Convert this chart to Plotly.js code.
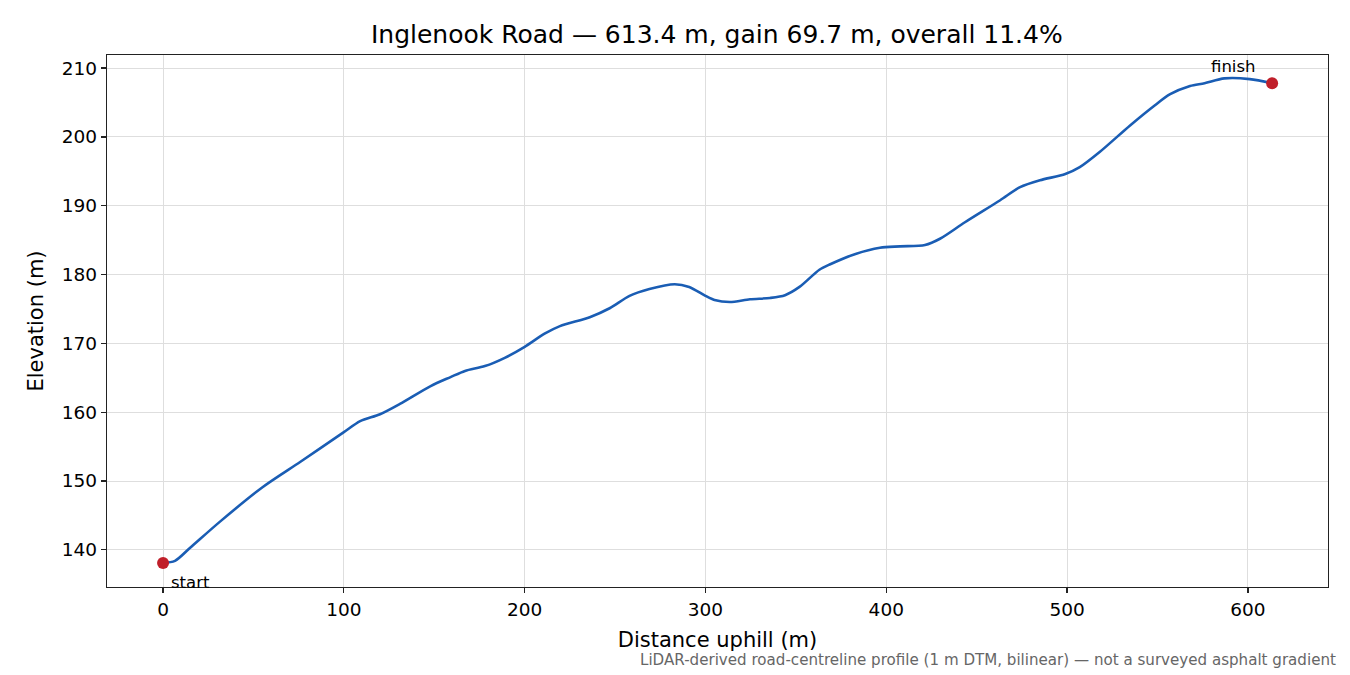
<!DOCTYPE html>
<html>
<head>
<meta charset="utf-8">
<script src="https://cdn.plot.ly/plotly-3.0.1.min.js"></script>
<style>
  body { margin: 0; background: #fff; }
  #chart { width: 1350px; height: 675px; }
</style>
</head>
<body>
<div id="chart"></div>
<script>
// road profile
var distance = [0, 6.6, 15, 31.5, 55, 76, 100, 109, 120, 131, 148, 159, 167, 178, 189, 200,
  211, 219.5, 236, 247, 258, 269, 283, 291, 300, 305, 313.5, 324.6, 335.7, 344, 352,
  363, 369, 383, 396.5, 407.6, 421.4, 429.7, 443.5, 463, 474, 485, 499, 507, 518,
  535, 548.6, 557, 568, 576, 587, 601, 613.4];
var elevation = [138.1, 138.4, 140.3, 144.1, 149.1, 152.8, 157.1, 158.7, 159.7, 161.2, 163.8,
  165.1, 166.0, 166.7, 167.9, 169.5, 171.4, 172.5, 173.8, 175.1, 176.9, 177.9, 178.6,
  178.2, 176.9, 176.3, 176.0, 176.4, 176.6, 177.0, 178.2, 180.7, 181.5, 183.0, 183.9,
  184.1, 184.3, 185.2, 187.6, 190.8, 192.7, 193.7, 194.6, 195.6, 197.8, 201.7, 204.6,
  206.2, 207.4, 207.8, 208.5, 208.4, 207.8];

var endLabels = ['start', 'finish'];
var xTicks = [0, 100, 200, 300, 400, 500, 600];
var yTicks = [140, 150, 160, 170, 180, 190, 200, 210];
var titleText = 'Inglenook Road — 613.4 m, gain 69.7 m, overall 11.4%';
var noteText = 'LiDAR-derived road-centreline profile (1 m DTM, bilinear) — not a surveyed asphalt gradient';

var n = distance.length - 1;
var ends = { x: [distance[0], distance[n]], y: [elevation[0], elevation[n]] };

var traces = [{
  x: distance,
  y: elevation,
  mode: 'lines',
  type: 'scatter',
  line: { color: '#1a5db4', width: 2.6, shape: 'spline', smoothing: 0.8 },
  hoverinfo: 'skip'
}, {
  x: ends.x,
  y: ends.y,
  mode: 'markers',
  type: 'scatter',
  marker: { color: '#c01f2a', size: 12 },
  hoverinfo: 'skip'
}];

var font = 'DejaVu Sans, sans-serif';

var axisCommon = {
  showline: true, mirror: true, linecolor: '#222', linewidth: 1.3,
  ticks: 'outside', ticklen: 5, tickwidth: 1.2, tickcolor: '#222',
  showgrid: true, gridcolor: '#dedede', gridwidth: 1,
  zeroline: false,
  tickfont: { family: font, size: 18.5, color: '#000' }
};

var layout = {
  width: 1350, height: 675,
  margin: { l: 107, r: 22, t: 55, b: 88 },
  paper_bgcolor: '#fff', plot_bgcolor: '#fff',
  showlegend: false,
  title: { text: titleText, x: 0.531, xanchor: 'center', y: 0.95, yanchor: 'middle',
           font: { family: font, size: 25, color: '#000' } },
  xaxis: Object.assign({}, axisCommon, {
    range: [-31, 644.3], tickvals: xTicks,
    title: { text: 'Distance uphill (m)', standoff: 13, font: { family: font, size: 21, color: '#000' } }
  }),
  yaxis: Object.assign({}, axisCommon, {
    range: [134.6, 211.9], tickvals: yTicks,
    title: { text: 'Elevation (m)', standoff: 12, font: { family: font, size: 21, color: '#000' } }
  }),
  annotations: [{
    x: ends.x[0], y: ends.y[0], xref: 'x', yref: 'y',
    text: endLabels[0], showarrow: false,
    xanchor: 'left', yanchor: 'middle', xshift: 6, yshift: -20,
    font: { family: font, size: 16.5, color: '#000' }
  }, {
    x: ends.x[1], y: ends.y[1], xref: 'x', yref: 'y',
    text: endLabels[1], showarrow: false,
    xanchor: 'center', yanchor: 'middle', xshift: -39, yshift: 17,
    font: { family: font, size: 16.5, color: '#000' }
  }, {
    x: 1, y: 0, xref: 'paper', yref: 'paper',
    text: noteText, showarrow: false,
    xanchor: 'right', yanchor: 'middle', xshift: 10, yshift: -73,
    font: { family: font, size: 15.1, color: '#666' }
  }]
};

Plotly.newPlot('chart', traces, layout, { displayModeBar: false, staticPlot: true });
</script>
</body>
</html>
